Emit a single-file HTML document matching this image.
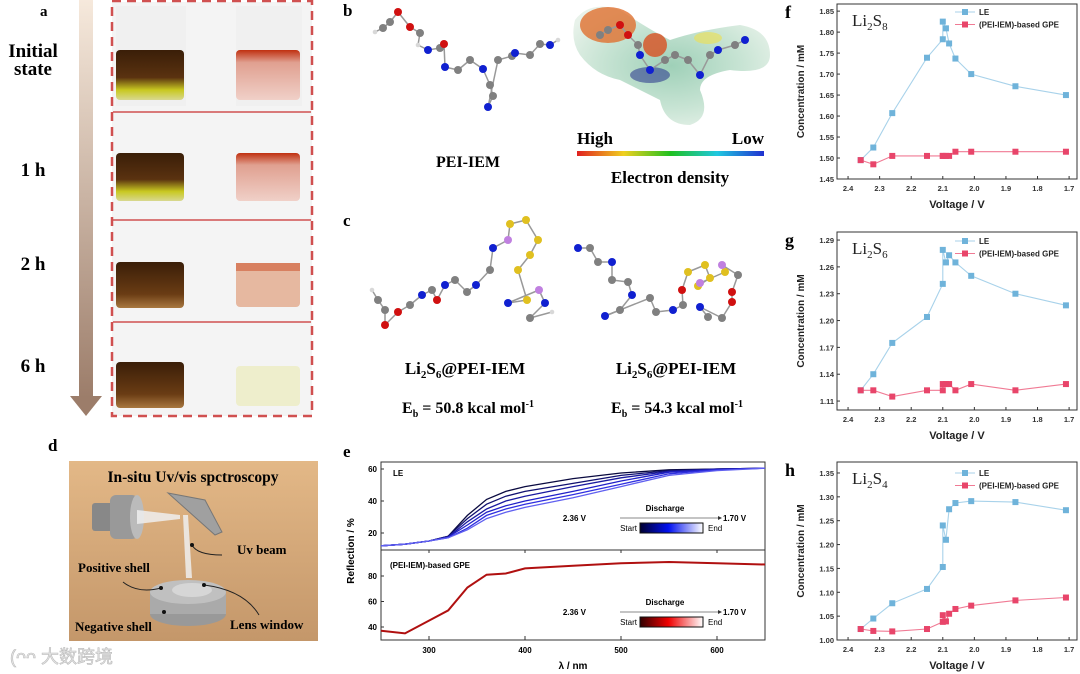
<!DOCTYPE html>
<html><head><meta charset="utf-8"><style>
html,body{margin:0;padding:0;background:#fff;}
svg{display:block;font-family:"Liberation Sans",Arial,sans-serif;}
.serif{font-family:"Liberation Serif","Times New Roman",serif;}
</style></head><body>
<svg id="fig" width="1080" height="674" viewBox="0 0 1080 674" xmlns="http://www.w3.org/2000/svg">
<defs>
<linearGradient id="arrowGrad" x1="0" y1="0" x2="0" y2="1"><stop offset="0" stop-color="#f6e9dc"/><stop offset="1" stop-color="#9c7d6a"/></linearGradient>
<linearGradient id="boxGrad" x1="0" y1="0" x2="0" y2="1"><stop offset="0" stop-color="#e3b887"/><stop offset="1" stop-color="#c4976a"/></linearGradient>
<linearGradient id="rainbow" x1="0" y1="0" x2="1" y2="0"><stop offset="0" stop-color="#e02020"/><stop offset="0.25" stop-color="#f0d020"/><stop offset="0.5" stop-color="#20c020"/><stop offset="0.75" stop-color="#20c8e0"/><stop offset="1" stop-color="#2030d0"/></linearGradient>
<linearGradient id="blueBar" x1="0" y1="0" x2="1" y2="0"><stop offset="0" stop-color="#000030"/><stop offset="0.45" stop-color="#0010f0"/><stop offset="1" stop-color="#ffffff"/></linearGradient>
<linearGradient id="redBar" x1="0" y1="0" x2="1" y2="0"><stop offset="0" stop-color="#300000"/><stop offset="0.45" stop-color="#f00000"/><stop offset="1" stop-color="#ffffff"/></linearGradient>
<radialGradient id="esp" cx="0.5" cy="0.5" r="0.6"><stop offset="0" stop-color="#9fd0b8"/><stop offset="0.6" stop-color="#c8e4d4"/><stop offset="1" stop-color="#e8f2ea"/></radialGradient>
<linearGradient id="vialL" x1="0" y1="0" x2="0" y2="1"><stop offset="0" stop-color="#3a1e08"/><stop offset="0.55" stop-color="#5a3210"/><stop offset="0.8" stop-color="#c8c820"/><stop offset="1" stop-color="#d8d890"/></linearGradient>
<linearGradient id="vialL2" x1="0" y1="0" x2="0" y2="1"><stop offset="0" stop-color="#3a1e08"/><stop offset="0.7" stop-color="#6a3c14"/><stop offset="1" stop-color="#a87840"/></linearGradient>
<linearGradient id="vialR" x1="0" y1="0" x2="0" y2="1"><stop offset="0" stop-color="#c03010"/><stop offset="0.25" stop-color="#e0a090"/><stop offset="1" stop-color="#f0d0c8"/></linearGradient>
</defs>

<!-- Panel a -->
<g>
<text x="40" y="16" font-size="15" font-weight="bold" class="serif">a</text>
<rect x="79" y="0" width="14" height="398" fill="url(#arrowGrad)"/>
<polygon points="70,396 102,396 86,416" fill="#9c7d6a"/>
<text x="33" y="57" font-size="19" font-weight="bold" text-anchor="middle" class="serif">Initial</text>
<text x="33" y="75" font-size="19" font-weight="bold" text-anchor="middle" class="serif">state</text>
<text x="33" y="176" font-size="19" font-weight="bold" text-anchor="middle" class="serif">1 h</text>
<text x="33" y="270" font-size="19" font-weight="bold" text-anchor="middle" class="serif">2 h</text>
<text x="33" y="372" font-size="19" font-weight="bold" text-anchor="middle" class="serif">6 h</text>
<rect x="112" y="2" width="200" height="414" fill="#f4f4f4"/>
<g>
<rect x="116" y="6" width="70" height="100" fill="#f0f0f0"/><rect x="236" y="6" width="66" height="100" fill="#f0f0f0"/>
<rect x="116" y="50" width="68" height="50" rx="4" fill="url(#vialL)"/>
<rect x="236" y="50" width="64" height="50" rx="4" fill="url(#vialR)"/>
<rect x="116" y="153" width="68" height="48" rx="4" fill="url(#vialL)"/>
<rect x="236" y="153" width="64" height="48" rx="4" fill="url(#vialR)"/>
<rect x="116" y="262" width="68" height="46" rx="4" fill="url(#vialL2)"/>
<rect x="236" y="263" width="64" height="44" rx="4" fill="#e6b8a0"/>
<rect x="236" y="263" width="64" height="8" fill="#d88060"/>
<rect x="116" y="362" width="68" height="46" rx="4" fill="url(#vialL2)"/>
<rect x="236" y="366" width="64" height="40" rx="4" fill="#eeeecc"/>
</g>
<rect x="112" y="1" width="200" height="415" fill="none" stroke="#d05050" stroke-width="2.5" stroke-dasharray="9,6"/>
<line x1="113" y1="112" x2="311" y2="112" stroke="#d05050" stroke-width="1.5"/>
<line x1="113" y1="220" x2="311" y2="220" stroke="#d05050" stroke-width="1.5"/>
<line x1="113" y1="322" x2="311" y2="322" stroke="#d05050" stroke-width="1.5"/>
</g>

<!-- Panel b -->
<g>
<text x="343" y="16" font-size="17" font-weight="bold" class="serif">b</text>
<g id="molB"></g>
<text x="468" y="167" font-size="16" font-weight="bold" text-anchor="middle" class="serif">PEI-IEM</text>
<path d="M575,20 Q590,0 620,10 Q650,30 670,40 Q700,30 740,25 Q770,30 770,55 Q770,75 730,70 Q700,75 700,90 Q712,118 690,125 Q665,125 660,100 Q640,90 620,80 Q595,75 580,55 Q570,40 575,20Z" fill="url(#esp)"/>
<ellipse cx="608" cy="25" rx="28" ry="18" fill="#e07030" opacity="0.8"/>
<ellipse cx="655" cy="45" rx="12" ry="12" fill="#d85020" opacity="0.8"/>
<ellipse cx="650" cy="75" rx="20" ry="8" fill="#304090" opacity="0.6"/>
<ellipse cx="708" cy="38" rx="14" ry="6" fill="#e8e060" opacity="0.7"/>
<g id="molBesp"></g>
<text x="577" y="144" font-size="17" font-weight="bold" class="serif">High</text>
<text x="764" y="144" font-size="17" font-weight="bold" text-anchor="end" class="serif">Low</text>
<rect x="577" y="151" width="187" height="5" fill="url(#rainbow)"/>
<text x="670" y="183" font-size="17" font-weight="bold" text-anchor="middle" class="serif">Electron density</text>
</g>

<!-- Panel c -->
<g>
<text x="343" y="226" font-size="17" font-weight="bold" class="serif">c</text>
<g id="molC1"></g>
<g id="molC2"></g>
<text x="465" y="374" font-size="17" font-weight="bold" text-anchor="middle" class="serif">Li<tspan font-size="11" dy="4">2</tspan><tspan dy="-4">S</tspan><tspan font-size="11" dy="4">6</tspan><tspan dy="-4">@PEI-IEM</tspan></text>
<text x="676" y="374" font-size="17" font-weight="bold" text-anchor="middle" class="serif">Li<tspan font-size="11" dy="4">2</tspan><tspan dy="-4">S</tspan><tspan font-size="11" dy="4">6</tspan><tspan dy="-4">@PEI-IEM</tspan></text>
<text x="468" y="413" font-size="16" font-weight="bold" text-anchor="middle" class="serif">E<tspan font-size="10" dy="4">b</tspan><tspan dy="-4"> = 50.8 kcal mol</tspan><tspan font-size="10" dy="-6">-1</tspan></text>
<text x="677" y="413" font-size="16" font-weight="bold" text-anchor="middle" class="serif">E<tspan font-size="10" dy="4">b</tspan><tspan dy="-4"> = 54.3 kcal mol</tspan><tspan font-size="10" dy="-6">-1</tspan></text>
</g>

<!-- Panel d -->
<g>
<text x="48" y="451" font-size="17" font-weight="bold" class="serif">d</text>
<rect x="69" y="461" width="249" height="180" fill="url(#boxGrad)"/>
<text x="193" y="482" font-size="15.5" font-weight="bold" text-anchor="middle" class="serif">In-situ Uv/vis spctroscopy</text>
<rect x="92" y="503" width="22" height="28" rx="3" fill="#888"/>
<rect x="110" y="495" width="28" height="44" rx="6" fill="#999"/>
<ellipse cx="137" cy="517" rx="7" ry="22" fill="#bbb"/>
<polygon points="137,510 180,515 180,519 137,524" fill="#eee" opacity="0.85"/>
<polygon points="168,493 205,500 222,532 215,535" fill="#a0a0a0" stroke="#777"/>
<polygon points="183,515 188,515 192,578 186,578" fill="#eee" opacity="0.85"/>
<ellipse cx="188" cy="614" rx="38" ry="12" fill="#999"/>
<rect x="150" y="592" width="76" height="22" fill="#aaa"/>
<ellipse cx="188" cy="592" rx="38" ry="12" fill="#c0c0c0"/>
<ellipse cx="192" cy="590" rx="20" ry="7" fill="#d6d6d6"/>
<path d="M192,545 q5,10 30,10" stroke="#222" fill="none"/><circle cx="192" cy="545" r="2" fill="#111"/>
<text x="237" y="554" font-size="13" font-weight="bold" class="serif">Uv beam</text>
<text x="78" y="572" font-size="13" font-weight="bold" class="serif">Positive shell</text>
<path d="M123,582 q15,12 38,6" stroke="#222" fill="none"/><circle cx="161" cy="588" r="2" fill="#111"/>
<path d="M204,585 q40,5 55,30" stroke="#222" fill="none"/><circle cx="204" cy="585" r="2" fill="#111"/>
<circle cx="164" cy="612" r="2" fill="#111"/>
<text x="75" y="631" font-size="13" font-weight="bold" class="serif">Negative shell</text>
<text x="230" y="629" font-size="13" font-weight="bold" class="serif">Lens window</text>
<text x="10" y="663" font-size="18" fill="#e6e6e6" stroke="#bbb" stroke-width="0.6" font-family="'Liberation Sans','Noto Sans CJK SC',sans-serif">(ᴖᴖ 大数跨境</text>
</g>

<!-- Panel e -->
<g id="panelE">
<text x="343" y="457" font-size="17" font-weight="bold" class="serif">e</text>
</g>

<g id="panelF"></g>
<g id="panelG"></g>
<g id="panelH"></g>
</svg>

<script>
// ---------- Panel f/g/h data ----------
const voltages = [2.36, 2.32, 2.26, 2.15, 2.10, 2.10, 2.09, 2.08, 2.06, 2.01, 1.87, 1.71];
const xTicks = [2.4, 2.3, 2.2, 2.1, 2.0, 1.9, 1.8, 1.7];
const li2s8LE  = [1.495, 1.525, 1.607, 1.739, 1.783, 1.825, 1.809, 1.773, 1.737, 1.700, 1.671, 1.650];
const li2s8GPE = [1.495, 1.485, 1.505, 1.505, 1.505, 1.505, 1.505, 1.505, 1.515, 1.515, 1.515, 1.515];
const li2s8Ticks = [1.45, 1.50, 1.55, 1.60, 1.65, 1.70, 1.75, 1.80, 1.85];
const li2s6LE  = [1.122, 1.140, 1.175, 1.204, 1.241, 1.279, 1.265, 1.273, 1.265, 1.250, 1.230, 1.217];
const li2s6GPE = [1.122, 1.122, 1.115, 1.122, 1.122, 1.129, 1.129, 1.129, 1.122, 1.129, 1.122, 1.129];
const li2s6Ticks = [1.11, 1.14, 1.17, 1.20, 1.23, 1.26, 1.29];
const li2s4LE  = [1.023, 1.045, 1.077, 1.107, 1.153, 1.240, 1.210, 1.274, 1.287, 1.291, 1.289, 1.272];
const li2s4GPE = [1.023, 1.019, 1.018, 1.023, 1.038, 1.052, 1.039, 1.055, 1.065, 1.072, 1.083, 1.089];
const li2s4Ticks = [1.00, 1.05, 1.10, 1.15, 1.20, 1.25, 1.30, 1.35];

// ---------- Panel e data ----------
const wavelengths = [250, 275, 300, 320, 340, 360, 380, 400, 450, 500, 550, 600, 650];
const leCurve1 = [12, 13, 15, 18, 31, 41, 46, 49, 54, 57.5, 59.5, 60, 60.5];
const leCurve2 = [12, 13, 15, 18, 29, 38, 43, 46, 51, 56, 59, 60, 60.5];
const leCurve3 = [12, 13, 15, 17.5, 27, 35, 40, 43, 49, 54.5, 58.5, 60, 60.5];
const leCurve4 = [12, 13, 15, 17.5, 25, 33, 37, 40, 46, 52.5, 58, 59.5, 60.5];
const leCurve5 = [12, 13, 15, 17, 23, 31, 35, 38, 44, 50.5, 57, 59.5, 60.5];
const leCurve6 = [12, 13, 15, 17, 22, 29, 33, 36, 42, 49, 56, 59, 60.5];
const gpeCurve = [37, 35, 45, 53, 71, 81, 82, 86, 88, 90, 91, 90, 89];
const eXTicks = [300, 400, 500, 600];
const eTopTicks = [20, 40, 60];
const eBotTicks = [40, 60, 80];

const NS = "http://www.w3.org/2000/svg";
function mk(parent, tag, attrs, text) {
  const el = document.createElementNS(NS, tag);
  for (const k in attrs) el.setAttribute(k, attrs[k]);
  if (text !== undefined) el.textContent = text;
  parent.appendChild(el);
  return el;
}

function drawPanel(gid, frame, yDom, yTicks, yDec, le, gpe, letter, species, sub, legY) {
  const g = document.getElementById(gid);
  const xs = v => frame.x0 + (2.435 - v) / (2.435 - 1.675) * (frame.x1 - frame.x0);
  const ys = v => frame.y1 - (v - yDom[0]) / (yDom[1] - yDom[0]) * (frame.y1 - frame.y0);
  const lt = mk(g, "text", {x: 785, y: frame.y0 + 14, "font-size": 18, "font-weight": "bold", "class": "serif"}, letter);
  
  
  const fr = mk(g, "rect", {x: frame.x0, y: frame.y0, width: frame.x1 - frame.x0, height: frame.y1 - frame.y0, fill: "none", stroke: "#333", "stroke-width": 1});
  
  
  yTicks.forEach(t => {
    const y = ys(t);
    mk(g, "line", {x1: frame.x0, x2: frame.x0 + 3, y1: y, y2: y, stroke: "#333"});
    const tl = mk(g, "text", {x: frame.x0 - 3, y: y + 3, "font-size": 7.5, "font-weight": "bold", "text-anchor": "end", fill: "#333"}, t.toFixed(yDec));
    
    
  });
  xTicks.forEach(t => {
    const x = xs(t);
    mk(g, "line", {x1: x, x2: x, y1: frame.y1, y2: frame.y1 - 3, stroke: "#333"});
    const tl = mk(g, "text", {x: x, y: frame.y1 + 12, "font-size": 7.5, "font-weight": "bold", "text-anchor": "middle", fill: "#333"}, t.toFixed(1));
    
    
  });
  const yl = mk(g, "text", {x: 0, y: 0, "font-size": 10, "font-weight": "bold", "text-anchor": "middle", fill: "#222", transform: `translate(804,${(frame.y0 + frame.y1) / 2}) rotate(-90)`}, "Concentration / mM");
  
  
  const xl = mk(g, "text", {x: (frame.x0 + frame.x1) / 2, y: frame.y1 + 29, "font-size": 11, "font-weight": "bold", "text-anchor": "middle", fill: "#222"}, "Voltage / V");
  
  
  const sp = mk(g, "text", {x: 852, y: frame.y0 + 22, "font-size": 17, "class": "serif", fill: "#222"});
  
  
  sp.innerHTML = `Li<tspan font-size="11" dy="4">2</tspan><tspan dy="-4">S</tspan><tspan font-size="11" dy="4">${sub}</tspan>`;
  [[le, "#a8d2ea", "#6fb3da", "LE", "le"], [gpe, "#f07a94", "#e8456a", "(PEI-IEM)-based GPE", "gpe"]].forEach(([arr, lc, mc, name, key], si) => {
    const pts = arr.map((v, i) => xs(voltages[i]).toFixed(1) + "," + ys(v).toFixed(1)).join(" ");
    const pl = mk(g, "polyline", {points: pts, fill: "none", stroke: lc, "stroke-width": 1.1});
    
    
    arr.forEach((v, i) => {
      const r = mk(g, "rect", {x: xs(voltages[i]) - 3, y: ys(v) - 3, width: 6, height: 6, fill: mc});
      
      
    });
    const ly = legY + si * 12.5;
    mk(g, "line", {x1: 955, x2: 975, y1: ly, y2: ly, stroke: lc, "stroke-width": 1.1});
    mk(g, "rect", {x: 962, y: ly - 3, width: 6, height: 6, fill: mc});
    const lt2 = mk(g, "text", {x: 979, y: ly + 3, "font-size": 8, "font-weight": "bold", fill: "#222"}, name);
    
    
  });
}
drawPanel("panelF", {x0: 837, x1: 1077, y0: 4, y1: 179}, [1.45, 1.867], li2s8Ticks, 2, li2s8LE, li2s8GPE, "f", "Li2S8", "8", 12);
drawPanel("panelG", {x0: 837, x1: 1077, y0: 232, y1: 410}, [1.10, 1.299], li2s6Ticks, 2, li2s6LE, li2s6GPE, "g", "Li2S6", "6", 241);
drawPanel("panelH", {x0: 837, x1: 1077, y0: 462, y1: 640}, [1.00, 1.373], li2s4Ticks, 2, li2s4LE, li2s4GPE, "h", "Li2S4", "4", 473);

// ---------- Panel e ----------
(function(){
  const g = document.getElementById("panelE");
  const xs = w => 381 + (w - 250) / 400 * (765 - 381);
  const yTop = v => 533 - (v - 20) / 40 * (533 - 469);
  const yBot = v => 627 - (v - 40) / 40 * (627 - 576);
  const fr1 = mk(g, "rect", {x: 381, y: 462, width: 384, height: 88, fill: "none", stroke: "#333"});
  
  
  const fr2 = mk(g, "rect", {x: 381, y: 550, width: 384, height: 90, fill: "none", stroke: "#333"});
  
  
  eTopTicks.forEach(t => { mk(g, "line", {x1: 381, x2: 384, y1: yTop(t), y2: yTop(t), stroke: "#333"});
    const l = mk(g, "text", {x: 377, y: yTop(t) + 3, "font-size": 8, "font-weight": "bold", "text-anchor": "end"}, t);
      });
  eBotTicks.forEach(t => { mk(g, "line", {x1: 381, x2: 384, y1: yBot(t), y2: yBot(t), stroke: "#333"});
    const l = mk(g, "text", {x: 377, y: yBot(t) + 3, "font-size": 8, "font-weight": "bold", "text-anchor": "end"}, t);
      });
  eXTicks.forEach(t => { mk(g, "line", {x1: xs(t), x2: xs(t), y1: 640, y2: 636, stroke: "#333"});
    mk(g, "line", {x1: xs(t), x2: xs(t), y1: 550, y2: 553, stroke: "#333"});
    const l = mk(g, "text", {x: xs(t), y: 653, "font-size": 8, "font-weight": "bold", "text-anchor": "middle"}, t);
      });
  const curves = [leCurve1, leCurve2, leCurve3, leCurve4, leCurve5, leCurve6];
  const cols = ["#0a0a40", "#101070", "#1a1aa0", "#2020c8", "#3030e0", "#6060f0"];
  curves.forEach((c, k) => {
    const p = mk(g, "polyline", {points: c.map((v, i) => xs(wavelengths[i]).toFixed(1) + "," + yTop(v).toFixed(1)).join(" "), fill: "none", stroke: cols[k], "stroke-width": 1.3});
    
    
  });
  const gp = mk(g, "polyline", {points: gpeCurve.map((v, i) => xs(wavelengths[i]).toFixed(1) + "," + yBot(v).toFixed(1)).join(" "), fill: "none", stroke: "#b01010", "stroke-width": 2});
  
  
  [["LE", 393, 476], ["(PEI-IEM)-based GPE", 390, 568]].forEach(([t, x, y]) => {
    const l = mk(g, "text", {x: x, y: y, "font-size": 8, "font-weight": "bold"}, t);
     
  });
  [[520, "blueBar"], [614, "redBar"]].forEach(([y0, grad]) => {
    mk(g, "text", {x: 665, y: y0 - 9, "font-size": 8, "font-weight": "bold", "text-anchor": "middle"}, "Discharge");
    mk(g, "text", {x: 586, y: y0 + 1, "font-size": 8, "font-weight": "bold", "text-anchor": "end"}, "2.36 V");
    mk(g, "text", {x: 723, y: y0 + 1, "font-size": 8, "font-weight": "bold"}, "1.70 V");
    mk(g, "line", {x1: 620, x2: 718, y1: y0 - 2, y2: y0 - 2, stroke: "#888"});
    mk(g, "polygon", {points: `${718},${y0 - 4} ${722},${y0 - 2} ${718},${y0}`, fill: "#333"});
    mk(g, "text", {x: 637, y: y0 + 11, "font-size": 8, "text-anchor": "end"}, "Start");
    const cb = mk(g, "rect", {x: 640, y: y0 + 3, width: 63, height: 10, fill: "url(#" + grad + ")", stroke: "#111"});
    
    
    mk(g, "text", {x: 708, y: y0 + 11, "font-size": 8}, "End");
  });
  const yl = mk(g, "text", {x: 0, y: 0, "font-size": 10, "font-weight": "bold", "text-anchor": "middle", transform: "translate(354,551) rotate(-90)"}, "Reflection / %");
   
  const xl = mk(g, "text", {x: 573, y: 669, "font-size": 10, "font-weight": "bold", "text-anchor": "middle"}, "λ / nm");
   
})();

// ---------- molecules (illustrative) ----------
function molecule(gid, atoms) {
  const g = document.getElementById(gid);
  const colors = {C: "#808080", H: "#d8d8d8", N: "#1020d0", O: "#d01010", S: "#e0c020", L: "#c080e0"};
  for (let i = 1; i < atoms.length; i++) {
    if (atoms[i][3] !== false) mk(g, "line", {x1: atoms[i - 1][1], y1: atoms[i - 1][2], x2: atoms[i][1], y2: atoms[i][2], stroke: "#999", "stroke-width": 1.5});
  }
  atoms.forEach(a => {
    const r = a[0] === "H" ? 2.3 : 4;
    mk(g, "circle", {cx: a[1], cy: a[2], r: r, fill: colors[a[0]]});
  });
}
molecule("molB", [["H",375,32],["C",383,28],["C",390,22],["O",398,12],["O",410,27],["C",420,33],["H",418,45],["N",428,50],["C",440,48],["O",444,44],["N",445,67],["C",458,70],["C",470,60],["N",483,69],["C",490,85],["C",493,96],["N",488,107],["C",498,60],["C",512,56],["N",515,53],["C",530,55],["C",540,44],["N",550,45],["H",558,40]]);
molecule("molC1", [["H",372,290],["C",378,300],["C",385,310],["O",385,325],["O",398,312],["C",410,305],["N",422,295],["C",432,290],["O",437,300],["N",445,285],["C",455,280],["C",467,292],["N",476,285],["C",490,270],["N",493,248],["L",508,240],["S",510,224],["S",526,220],["S",538,240],["S",530,255],["S",518,270],["S",527,300],["N",508,303],["L",539,290],["N",545,303],["C",530,318],["H",552,312]]);
molecule("molC2", [["N",578,248],["C",590,248],["C",598,262],["N",612,262],["C",612,280],["C",628,282],["N",632,295],["C",620,310],["N",605,316],["C",650,298],["C",656,312],["N",673,310],["C",683,305],["O",682,290],["S",688,272],["S",705,265],["S",710,278],["S",698,286],["L",700,283],["S",725,272],["L",722,265],["C",738,275],["O",732,292],["O",732,302],["C",722,318],["N",700,307],["C",708,317]]);
molecule("molBesp", [["C",600,35],["C",608,30],["O",620,25],["O",628,35],["C",638,45],["N",640,55],["N",650,70],["C",665,60],["C",675,55],["C",688,60],["N",700,75],["C",710,55],["N",718,50],["C",735,45],["N",745,40]]);
</script>
</body></html>
